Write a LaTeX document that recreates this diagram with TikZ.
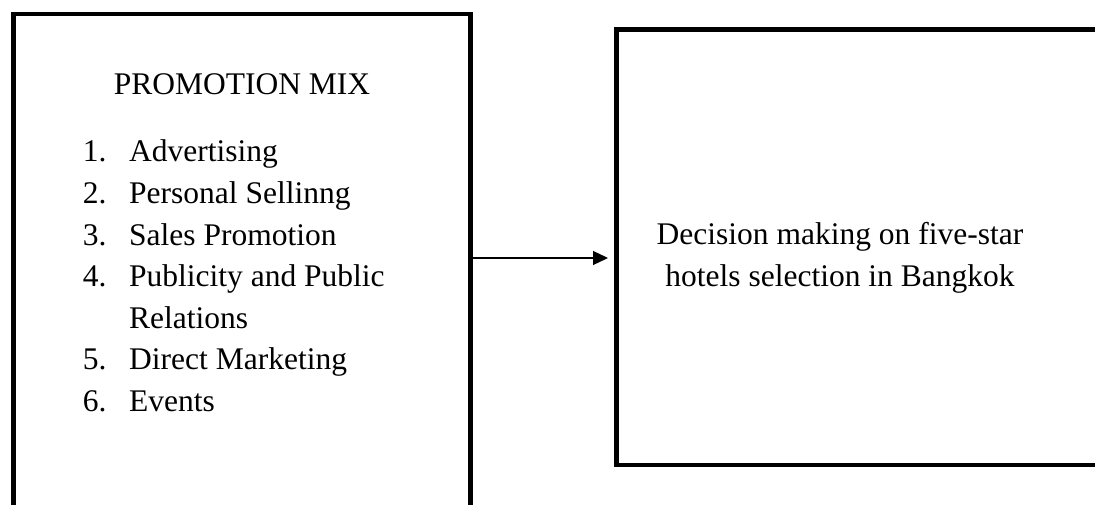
\documentclass[tikz,border=0pt]{standalone}
\usepackage{fontspec}
\setmainfont{Liberation Serif}
\usetikzlibrary{arrows.meta}
\tikzset{
  box/.style={draw=black, line width=4.7pt, rectangle, inner sep=0pt},
  txt/.style={anchor=base, inner sep=0pt, font=\fontsize{31.5}{41.5}\selectfont},
  num/.style={anchor=base west, inner sep=0pt, font=\fontsize{31.5}{41.5}\selectfont},
  item/.style={anchor=base west, inner sep=0pt, font=\fontsize{31.5}{41.5}\selectfont},
  arr/.style={draw=black, line width=1.3pt, -{Triangle[length=15pt,width=14pt]}, shorten >=6pt}
}
\begin{document}
\begin{tikzpicture}[x=1pt,y=-1pt]
\useasboundingbox (0,0) rectangle (1095,505);
\clip (0,0) rectangle (1095,505);
\fill[white] (0,0) rectangle (1095,505);
% boxes
\node[box, minimum width=457pt, minimum height=560pt, anchor=north west] (left) at (11,11.7) {};
\node[box, minimum width=520pt, minimum height=435pt, anchor=north west] (right) at (614,27.5) {};
% arrow
\draw[arr] (left.east |- 0,258) -- (right.west |- 0,258);
% left texts
\node[txt] (title) at (242,95) {PROMOTION MIX};
\node[num] (n1) at (82.7,162) {1.};
\node[item] (i1) at (129,162) {Advertising};
\node[num] (n2) at (82.7,203.5) {2.};
\node[item] (i2) at (129,203.5) {Personal Sellinng};
\node[num] (n3) at (82.7,245) {3.};
\node[item] (i3) at (129,245) {Sales Promotion};
\node[num] (n4) at (82.7,286.5) {4.};
\node[item] (i4) at (129,286.5) {Publicity and Public};
\node[item] (i4b) at (129,328) {Relations};
\node[num] (n5) at (82.7,369.5) {5.};
\node[item] (i5) at (129,369.5) {Direct Marketing};
\node[num] (n6) at (82.7,411) {6.};
\node[item] (i6) at (129,411) {Events};
% right texts
\node[txt] (r1) at (840,244) {Decision making on five-star};
\node[txt] (r2) at (840,286) {hotels selection in Bangkok};
\end{tikzpicture}
\end{document}
